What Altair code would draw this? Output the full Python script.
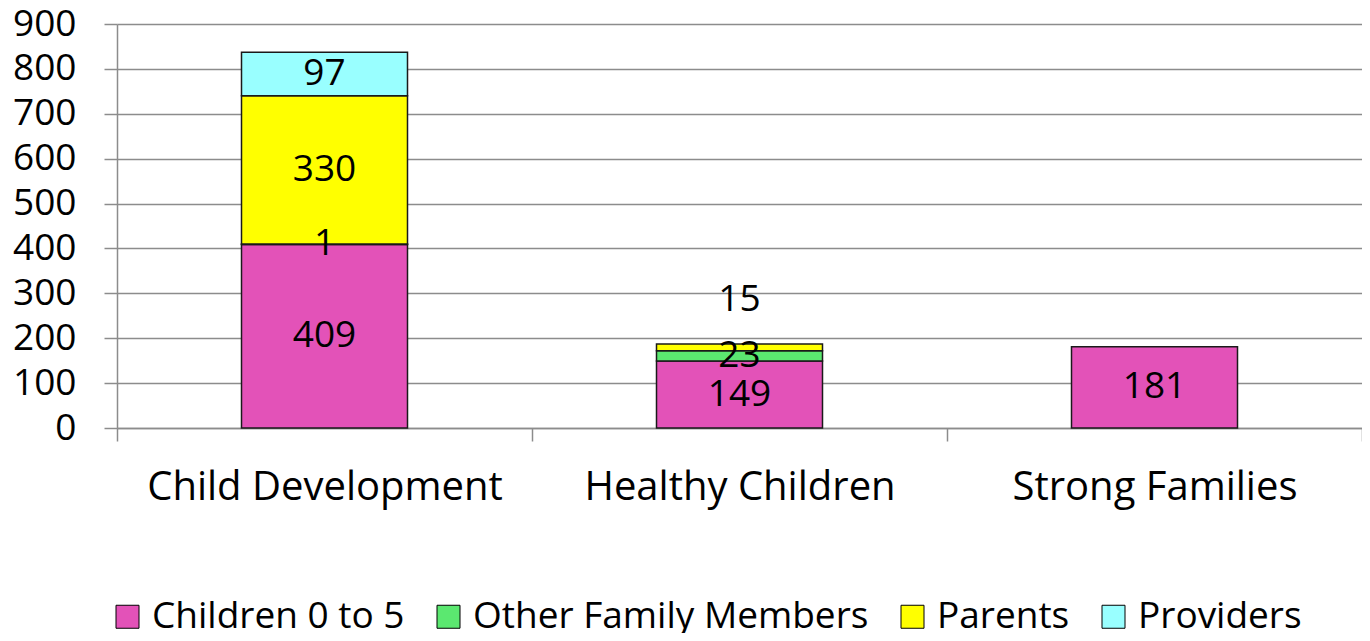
import altair as alt
import pandas as pd

categories = ["Child Development", "Healthy Children", "Strong Families"]
series = ["Children 0 to 5", "Other Family Members", "Parents", "Providers"]
children_0_5 = [409, 149, 181]
other_family = [1, 23, 0]
parents = [330, 15, 0]
providers = [97, 0, 0]
colors = ["#E352B8", "#5BE870", "#FFFF00", "#99FFFF"]
y_ticks = [0, 100, 200, 300, 400, 500, 600, 700, 800, 900]

rows = []
for i, c in enumerate(categories):
    for j, (s, vals) in enumerate(zip(series, [children_0_5, other_family, parents, providers])):
        rows.append({"category": c, "series": s, "order": j, "value": vals[i]})
df = pd.DataFrame(rows)

FONT = "Open Sans"
GRID = "#8c8c8c"

yscale = alt.Scale(domain=[0, 900], nice=False, zero=True)
xscale = alt.Scale(paddingInner=0, paddingOuter=0)

base = alt.Chart(df).transform_filter("datum.value > 0")

bars = base.mark_bar(
    stroke="#1a1a1a", strokeWidth=1.5, width=alt.RelativeBandSize(0.4)
).encode(
    x=alt.X(
        "category:N",
        sort=categories,
        scale=xscale,
        axis=alt.Axis(
            title=None,
            labelFont=FONT,
            labelFontSize=40,
            labelColor="black",
            labelAngle=0,
            labelLimit=1000,
            labelOverlap=False,
            labelPadding=26,
            tickBand="extent",
            tickSize=13,
            tickColor=GRID,
            tickWidth=1.5,
            domainColor=GRID,
            domainWidth=1.5,
            grid=False,
        ),
    ),
    y=alt.Y(
        "value:Q",
        stack="zero",
        scale=yscale,
        axis=alt.Axis(
            title=None,
            values=y_ticks,
            labelFont=FONT,
            labelFontSize=37,
            labelColor="black",
            labelPadding=28,
            tickSize=13,
            tickColor=GRID,
            tickWidth=1.5,
            domainColor=GRID,
            domainWidth=1.5,
            grid=True,
            gridColor=GRID,
            gridWidth=1.5,
        ),
    ),
    color=alt.Color(
        "series:N",
        scale=alt.Scale(domain=series, range=colors),
        legend=alt.Legend(
            title=None,
            orient="none",
            legendX=-8,
            legendY=574,
            direction="horizontal",
            columns=4,
            symbolType="square",
            symbolSize=529,
            symbolStrokeColor="black",
            symbolStrokeWidth=1,
            symbolOpacity=1,
            labelFont=FONT,
            labelFontSize=37,
            labelColor="black",
            labelLimit=1000,
            labelOffset=6,
            columnPadding=25,
            padding=0,
        ),
    ),
    order=alt.Order("order:Q", sort="ascending"),
)

stacked = base.transform_stack(
    stack="value",
    groupby=["category"],
    as_=["y0", "y1"],
    sort=[alt.SortField("order", order="ascending")],
).transform_calculate(mid="(datum.y0 + datum.y1) / 2")

moved = "datum.category === 'Healthy Children' && datum.series === 'Parents'"

labels = stacked.transform_filter("!(" + moved + ")").mark_text(
    font=FONT, fontSize=37, color="black", baseline="middle"
).encode(
    x=alt.X("category:N", sort=categories, scale=xscale),
    y=alt.Y("mid:Q", scale=yscale),
    text=alt.Text("value:Q"),
)

labels_moved = stacked.transform_filter(moved).mark_text(
    font=FONT, fontSize=37, color="black", baseline="middle", dy=-47
).encode(
    x=alt.X("category:N", sort=categories, scale=xscale),
    y=alt.Y("mid:Q", scale=yscale),
    text=alt.Text("value:Q"),
)

chart = (
    alt.layer(bars, labels, labels_moved)
    .properties(
        width=1245,
        height=404,
        padding={"left": 109, "top": 16, "right": 0, "bottom": 205},
        autosize=alt.AutoSizeParams(type="none"),
    )
    .configure_view(stroke=None)
)

chart.save("out.html", embed_options={"renderer": "svg", "actions": False})
